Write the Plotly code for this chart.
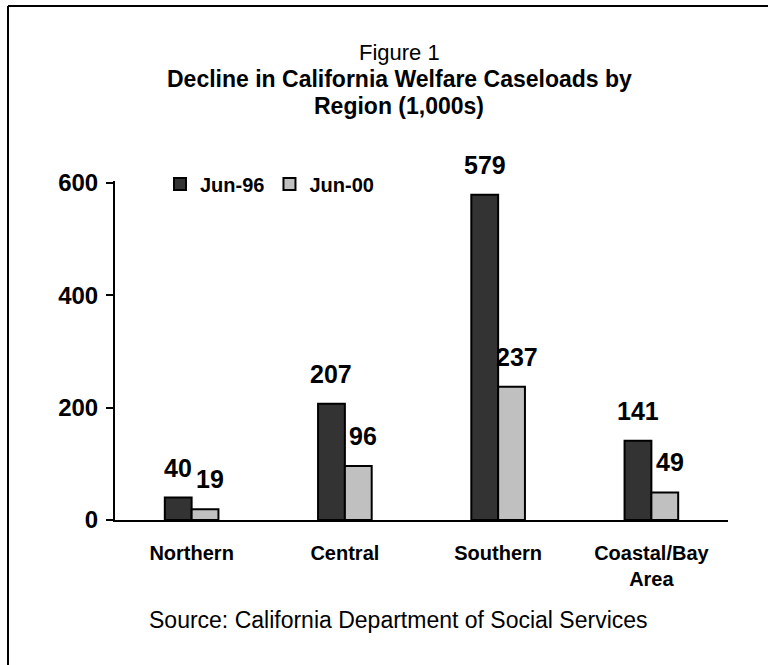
import plotly.graph_objects as go

# Welfare caseloads by region, thousands
regions = ["Northern", "Central", "Southern", "Coastal/Bay<br>Area"]
jun96 = [40, 207, 579, 141]
jun00 = [19, 96, 237, 49]
series_names = ["Jun-96", "Jun-00"]
y_ticks = [0, 200, 400, 600]

W, H = 768, 665
M_L, M_R, M_T, M_B = 115, 40, 181, 145
FONT = "Liberation Sans, Arial, sans-serif"

plot_w = W - M_L - M_R
plot_h = H - M_T - M_B


def px_to_paper_x(px):
    return (px - M_L) / plot_w


def px_to_paper_y(py):
    return (H - M_B - py) / plot_h


xs = list(range(len(regions)))

fig = go.Figure()
fig.add_trace(go.Bar(
    x=xs, y=jun96, name=series_names[0],
    marker=dict(color="#333333", line=dict(color="#000000", width=2)),
))
fig.add_trace(go.Bar(
    x=xs, y=jun00, name=series_names[1],
    marker=dict(color="#C0C0C0", line=dict(color="#000000", width=2)),
))

bargap = 0.65
half = (1 - bargap) / 4  # centre offset of each bar within its group

label_font = dict(size=25, color="#000", family=FONT)
annotations = []
for i, (a, b) in enumerate(zip(jun96, jun00)):
    annotations.append(dict(
        x=i - half, y=a, xref="x", yref="y", text=f"<b>{a}</b>",
        showarrow=False, yshift=30, font=label_font,
    ))
    annotations.append(dict(
        x=i + half, y=b, xref="x", yref="y", text=f"<b>{b}</b>",
        showarrow=False, yshift=30, xshift=5, font=label_font,
    ))

# Titles and source note
annotations += [
    dict(x=px_to_paper_x(399), y=px_to_paper_y(52), xref="paper", yref="paper",
         text="Figure 1", showarrow=False, yanchor="middle",
         font=dict(size=22, color="#000", family=FONT)),
    dict(x=px_to_paper_x(399), y=px_to_paper_y(79), xref="paper", yref="paper",
         text="<b>Decline in California Welfare Caseloads by</b>", showarrow=False,
         yanchor="middle", font=dict(size=23, color="#000", family=FONT)),
    dict(x=px_to_paper_x(399), y=px_to_paper_y(106), xref="paper", yref="paper",
         text="<b>Region (1,000s)</b>", showarrow=False, yanchor="middle",
         font=dict(size=23, color="#000", family=FONT)),
    dict(x=px_to_paper_x(398), y=px_to_paper_y(620), xref="paper", yref="paper",
         text="Source: California Department of Social Services", showarrow=False,
         yanchor="middle", font=dict(size=23, color="#000", family=FONT)),
]

# Outer frame (top and left edges)
shapes = [
    dict(type="line", xref="paper", yref="paper",
         x0=px_to_paper_x(8), x1=px_to_paper_x(W + 5),
         y0=px_to_paper_y(6), y1=px_to_paper_y(6),
         line=dict(color="#000", width=2)),
    dict(type="line", xref="paper", yref="paper",
         x0=px_to_paper_x(8), x1=px_to_paper_x(8),
         y0=px_to_paper_y(6), y1=px_to_paper_y(H + 5),
         line=dict(color="#000", width=2)),
]

fig.update_layout(
    width=W, height=H,
    margin=dict(l=M_L, r=M_R, t=M_T, b=M_B, pad=0),
    paper_bgcolor="white", plot_bgcolor="white",
    barmode="group", bargap=bargap, bargroupgap=0,
    font=dict(family=FONT, color="#000"),
    showlegend=True,
    legend=dict(
        orientation="h", x=px_to_paper_x(160), y=px_to_paper_y(184),
        xanchor="left", yanchor="middle",
        font=dict(size=20, family=FONT, color="#000", weight="bold"),
        itemwidth=30, bgcolor="rgba(0,0,0,0)", tracegroupgap=0,
    ),
    xaxis=dict(
        tickmode="array", tickvals=xs, ticktext=[f"<b>{r}</b>" for r in regions],
        range=[-0.5, len(regions) - 0.5],
        showline=True, linecolor="#000", linewidth=2,
        ticks="", showgrid=False, zeroline=False,
        tickfont=dict(size=20, family=FONT, color="#000"),
        ticklabelstandoff=14,
    ),
    yaxis=dict(
        range=[0, 603.5], tickmode="array", tickvals=y_ticks,
        ticktext=[f"<b>{v}</b>" for v in y_ticks],
        showline=True, linecolor="#000", linewidth=2,
        ticks="outside", ticklen=7, tickwidth=2, tickcolor="#000",
        showgrid=False, zeroline=False,
        tickfont=dict(size=24, family=FONT, color="#000"),
        ticklabelstandoff=3,
    ),
    annotations=annotations, shapes=shapes,
)

fig.write_html("out.html")
